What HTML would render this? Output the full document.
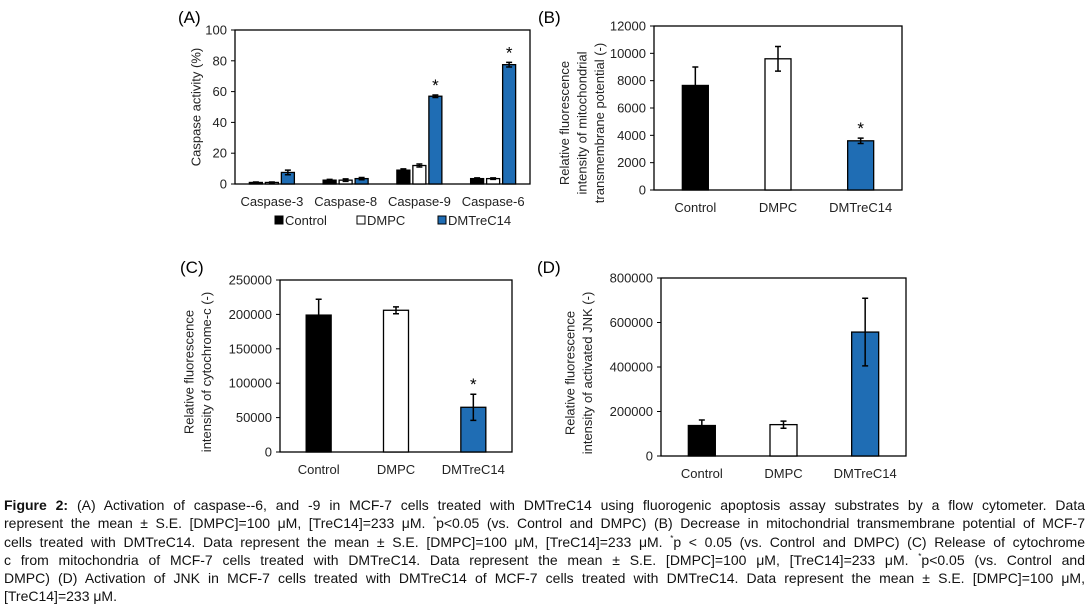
<!DOCTYPE html>
<html><head><meta charset="utf-8">
<style>
body{margin:0;background:#fff;width:1090px;height:611px;overflow:hidden;font-family:"Liberation Sans",Arial,sans-serif}
svg{position:absolute;left:0;top:0}
#cap{position:absolute;left:4px;top:496px;width:1081px;font-size:14px;line-height:18.3px;color:#111}
#cap div{height:18.3px;text-align:justify;text-align-last:justify;white-space:nowrap}
#cap div.last{text-align-last:left}
#cap sup{font-size:8px;line-height:0;vertical-align:0;position:relative;top:-6px}
</style></head><body>
<svg id="fig" width="1090" height="611"></svg>
<div id="cap">
<div><b>Figure 2:</b> (A) Activation of caspase--6, and -9 in MCF-7 cells treated with DMTreC14 using fluorogenic apoptosis assay substrates by a flow cytometer. Data</div>
<div>represent the mean ± S.E. [DMPC]=100 μM, [TreC14]=233 μM. <sup>*</sup>p&lt;0.05 (vs. Control and DMPC) (B) Decrease in mitochondrial transmembrane potential of MCF-7</div>
<div>cells treated with DMTreC14. Data represent the mean ± S.E. [DMPC]=100 μM, [TreC14]=233 μM. <sup>*</sup>p &lt; 0.05 (vs. Control and DMPC) (C) Release of cytochrome</div>
<div>c from mitochondria of MCF-7 cells treated with DMTreC14. Data represent the mean ± S.E. [DMPC]=100 μM, [TreC14]=233 μM. <sup>*</sup>p&lt;0.05 (vs. Control and</div>
<div>DMPC) (D) Activation of JNK in MCF-7 cells treated with DMTreC14 of MCF-7 cells treated with DMTreC14. Data represent the mean ± S.E. [DMPC]=100 μM,</div>
<div class="last">[TreC14]=233 μM.</div>
</div>
<script>
// Panel A data
const aCategories=["Caspase-3","Caspase-8","Caspase-9","Caspase-6"];
const aSeries=["Control","DMPC","DMTreC14"];
const aControl=[1,2.5,9,3.5];
const aDMPC=[1,2.5,12,3.5];
const aTreC=[7.5,3.5,57,77.5];
const aControlErr=[0.3,0.5,0.8,0.5];
const aDMPCErr=[0.3,0.8,1,0.5];
const aTreCErr=[1.5,0.7,0.8,1.5];
const aStar=[false,false,true,true];
const aTicks=[0,20,40,60,80,100];
// Panel B
const bCategories=["Control","DMPC","DMTreC14"];
const bValues=[7650,9600,3600];
const bErr=[1350,900,200];
const bStar=[false,false,true];
const bTicks=[0,2000,4000,6000,8000,10000,12000];
// Panel C
const cCategories=["Control","DMPC","DMTreC14"];
const cValues=[199000,206000,65000];
const cErr=[23000,5000,19000];
const cStar=[false,false,true];
const cTicks=[0,50000,100000,150000,200000,250000];
// Panel D
const dCategories=["Control","DMPC","DMTreC14"];
const dValues=[137000,141000,557000];
const dErr=[25000,16000,152000];
const dStar=[false,false,false];
const dTicks=[0,200000,400000,600000,800000];

const fills=["#000000","#ffffff","#1f6db4"];
const svg=document.getElementById('fig');
const NS="http://www.w3.org/2000/svg";
function mk(tag,attrs,parent,text){const e=document.createElementNS(NS,tag);for(const k in attrs)e.setAttribute(k,attrs[k]);if(text!==undefined)e.textContent=text;(parent||svg).appendChild(e);return e;}

function axes(g,x0,x1,yTop,yBot,ticks,cats){
  const max=ticks[ticks.length-1];
  const y=v=>yBot-(v/max)*(yBot-yTop);
  const frame=mk('rect',{x:x0,y:yTop,width:x1-x0,height:yBot-yTop,fill:'none',stroke:'#000','stroke-width':1.3},g);
  
  
  ticks.forEach(t=>{
    const ln=mk('line',{x1:x0-4,x2:x0,y1:y(t),y2:y(t),stroke:'#000'},g);
    
    
    const tx=mk('text',{x:x0-8,y:y(t)+4.5,'text-anchor':'end','font-size':13,fill:'#222'},g,String(t));
    
    
  });
  const bw=(x1-x0)/cats.length;
  cats.forEach((c,i)=>{
    const tx=mk('text',{x:x0+bw*(i+0.5),y:yBot+22,'text-anchor':'middle','font-size':13,fill:'#222'},g,c);
    
    
  });
  return {y,bw};
}
function bar(g,cx,w,val,err,fill,y,star){
  const r=mk('rect',{x:cx-w/2,y:y(val),width:w,height:y(0)-y(val),fill:fill,stroke:'#000','stroke-width':1.3},g);
  
  
  const e=mk('path',{d:`M${cx},${y(val+err)}V${y(val-err)}M${cx-3},${y(val+err)}h6M${cx-3},${y(val-err)}h6`,stroke:'#000','stroke-width':1.5,fill:'none'},g);
  
  
  if(star){
    const s=mk('text',{x:cx,y:y(val+err)-4,'text-anchor':'middle','font-size':17,fill:'#000'},g,'*');
    
    
  }
}
function label(g,x,y,t){const e=mk('text',{x:x,y:y,'font-size':17,fill:'#000'},g,t);}
function ytitle(g,cx,cy,lines){
  lines.forEach((l,i)=>{
    const x=cx+(i-(lines.length-1)/2)*17.5;
    const t=mk('text',{x:x,y:cy,'text-anchor':'middle','font-size':13,fill:'#222',transform:`rotate(-90 ${x} ${cy})`,'dominant-baseline':'middle'},g,l);
    
    
  });
}

// Panel A
{const g=mk('g',{});
 label(g,178,23,'(A)');
 const ax=axes(g,235,530,30,184,aTicks,aCategories);
 const vals=[aControl,aDMPC,aTreC],errs=[aControlErr,aDMPCErr,aTreCErr];
 aCategories.forEach((c,i)=>{const cx=235+ax.bw*(i+0.5);
   for(let s=0;s<3;s++)bar(g,cx+(s-1)*16,13,vals[s][i],errs[s][i],fills[s],ax.y,s===2&&aStar[i]);});
 ytitle(g,197,107,['Caspase activity (%)']);
 const lx=[275,357,438];
 aSeries.forEach((s,i)=>{
   const r=mk('rect',{x:lx[i],y:216,width:8,height:8,fill:fills[i],stroke:'#000','stroke-width':1},g);
   
   const t=mk('text',{x:lx[i]+10,y:225,'font-size':13,fill:'#222'},g,s);
   
 });}
// Panel B
{const g=mk('g',{});
 label(g,538,23,'(B)');
 const ax=axes(g,654,902,26,190,bTicks,bCategories);
 bCategories.forEach((c,i)=>bar(g,654+ax.bw*(i+0.5),26,bValues[i],bErr[i],fills[i],ax.y,bStar[i]));
 ytitle(g,583,123,['Relative fluorescence','intensity of mitochondrial','transmembrane potential  (-)']);}
// Panel C
{const g=mk('g',{});
 label(g,180,273,'(C)');
 const ax=axes(g,280,512,280,452,cTicks,cCategories);
 cCategories.forEach((c,i)=>bar(g,280+ax.bw*(i+0.5),25,cValues[i],cErr[i],fills[i],ax.y,cStar[i]));
 ytitle(g,199,372,['Relative fluorescence','intensity of cytochrome-c  (-)']);}
// Panel D
{const g=mk('g',{});
 label(g,537,273,'(D)');
 const ax=axes(g,661,906,278,456,dTicks,dCategories);
 dCategories.forEach((c,i)=>bar(g,661+ax.bw*(i+0.5),27,dValues[i],dErr[i],fills[i],ax.y,dStar[i]));
 ytitle(g,580,373,['Relative fluorescence','intensity of activated JNK (-)']);}
</script>
</body></html>
